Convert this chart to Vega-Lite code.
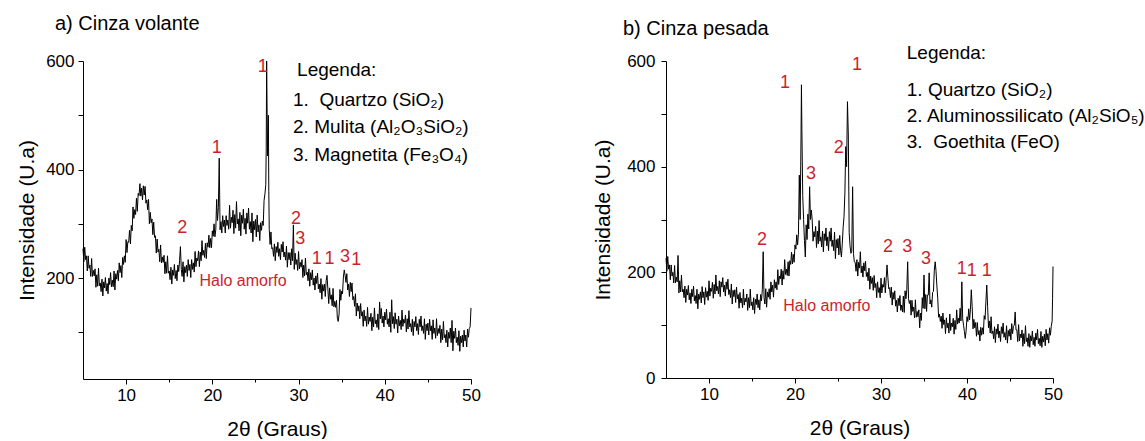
{
  "$schema": "https://vega.github.io/schema/vega-lite/v6.json",
  "background": "white",
  "padding": {"left": 16, "top": 13, "right": 0, "bottom": 0},
  "spacing": 195,
  "bounds": "flush",
  "config": {
    "font": "Liberation Sans",
    "view": {"stroke": null},
    "axis": {
      "domainColor": "#000", "domainWidth": 1, "tickColor": "#000", "tickWidth": 1,
      "labelColor": "#000", "labelFont": "Liberation Sans", "labelFontSize": 17,
      "titleColor": "#000", "titleFont": "Liberation Sans", "titleFontSize": 21, "titleFontWeight": "normal",
      "grid": false, "labelFlush": false, "labelOverlap": false
    },
    "text": {"font": "Liberation Sans"}
  },
  "datasets": {
    "va": [
      {"x":5.0,"y":254},{"x":5.1,"y":230},{"x":5.2,"y":257},{"x":5.3,"y":234},{"x":5.4,"y":241},{"x":5.5,"y":213},{"x":5.6,"y":241},{"x":5.7,"y":218},{"x":5.8,"y":224},{"x":5.9,"y":203},
      {"x":6.0,"y":236},{"x":6.1,"y":203},{"x":6.2,"y":214},{"x":6.3,"y":204},{"x":6.4,"y":217},{"x":6.5,"y":183},{"x":6.6,"y":206},{"x":6.7,"y":185},{"x":6.8,"y":218},{"x":6.9,"y":186},
      {"x":7.0,"y":191},{"x":7.1,"y":175},{"x":7.2,"y":198},{"x":7.3,"y":167},{"x":7.4,"y":193},{"x":7.5,"y":182},{"x":7.6,"y":201},{"x":7.7,"y":176},{"x":7.8,"y":190},{"x":7.9,"y":171},
      {"x":8.0,"y":200},{"x":8.1,"y":188},{"x":8.2,"y":210},{"x":8.3,"y":184},{"x":8.4,"y":196},{"x":8.5,"y":184},{"x":8.6,"y":213},{"x":8.7,"y":178},{"x":8.8,"y":208},{"x":8.9,"y":198},
      {"x":9.0,"y":214},{"x":9.1,"y":195},{"x":9.2,"y":228},{"x":9.3,"y":210},{"x":9.4,"y":223},{"x":9.5,"y":201},{"x":9.6,"y":238},{"x":9.7,"y":225},{"x":9.8,"y":241},{"x":9.9,"y":229},
      {"x":10.0,"y":271},{"x":10.1,"y":247},{"x":10.2,"y":267},{"x":10.3,"y":266},{"x":10.4,"y":288},{"x":10.5,"y":263},{"x":10.6,"y":297},{"x":10.7,"y":287},{"x":10.8,"y":331},{"x":10.9,"y":310},
      {"x":11.0,"y":326},{"x":11.1,"y":317},{"x":11.2,"y":347},{"x":11.3,"y":323},{"x":11.4,"y":356},{"x":11.5,"y":352},{"x":11.6,"y":374},{"x":11.7,"y":351},{"x":11.8,"y":366},{"x":11.9,"y":344},
      {"x":12.0,"y":370},{"x":12.1,"y":353},{"x":12.2,"y":369},{"x":12.3,"y":338},{"x":12.4,"y":344},{"x":12.5,"y":326},{"x":12.6,"y":345},{"x":12.7,"y":300},{"x":12.8,"y":321},{"x":12.9,"y":302},
      {"x":13.0,"y":309},{"x":13.1,"y":280},{"x":13.2,"y":303},{"x":13.3,"y":275},{"x":13.4,"y":278},{"x":13.5,"y":246},{"x":13.6,"y":272},{"x":13.7,"y":248},{"x":13.8,"y":253},{"x":13.9,"y":230},
      {"x":14.0,"y":261},{"x":14.1,"y":228},{"x":14.2,"y":239},{"x":14.3,"y":229},{"x":14.4,"y":242},{"x":14.5,"y":208},{"x":14.6,"y":230},{"x":14.7,"y":209},{"x":14.8,"y":241},{"x":14.9,"y":209},
      {"x":15.0,"y":213},{"x":15.1,"y":197},{"x":15.2,"y":220},{"x":15.3,"y":189},{"x":15.4,"y":215},{"x":15.5,"y":205},{"x":15.6,"y":225},{"x":15.7,"y":199},{"x":15.8,"y":214},{"x":15.9,"y":195},
      {"x":16.0,"y":224},{"x":16.1,"y":212},{"x":16.2,"y":232},{"x":16.3,"y":258},{"x":16.4,"y":216},{"x":16.5,"y":203},{"x":16.6,"y":230},{"x":16.7,"y":193},{"x":16.8,"y":221},{"x":16.9,"y":210},
      {"x":17.0,"y":224},{"x":17.1,"y":203},{"x":17.2,"y":234},{"x":17.3,"y":214},{"x":17.4,"y":225},{"x":17.5,"y":201},{"x":17.6,"y":234},{"x":17.7,"y":216},{"x":17.8,"y":228},{"x":17.9,"y":211},
      {"x":18.0,"y":249},{"x":18.1,"y":221},{"x":18.2,"y":237},{"x":18.3,"y":232},{"x":18.4,"y":250},{"x":18.5,"y":221},{"x":18.6,"y":248},{"x":18.7,"y":232},{"x":18.8,"y":269},{"x":18.9,"y":242},
      {"x":19.0,"y":251},{"x":19.1,"y":238},{"x":19.2,"y":264},{"x":19.3,"y":236},{"x":19.4,"y":265},{"x":19.5,"y":257},{"x":19.6,"y":279},{"x":19.7,"y":256},{"x":19.8,"y":273},{"x":19.9,"y":256},
      {"x":20.0,"y":287},{"x":20.1,"y":277},{"x":20.2,"y":300},{"x":20.3,"y":276},{"x":20.4,"y":289},{"x":20.5,"y":345},{"x":20.6,"y":306},{"x":20.7,"y":330},{"x":20.8,"y":421},{"x":20.9,"y":289},
      {"x":21.0,"y":304},{"x":21.1,"y":283},{"x":21.2,"y":315},{"x":21.3,"y":295},{"x":21.4,"y":307},{"x":21.5,"y":283},{"x":21.6,"y":315},{"x":21.7,"y":297},{"x":21.8,"y":307},{"x":21.9,"y":290},
      {"x":22.0,"y":334},{"x":22.1,"y":292},{"x":22.2,"y":312},{"x":22.3,"y":302},{"x":22.4,"y":325},{"x":22.5,"y":282},{"x":22.6,"y":317},{"x":22.7,"y":292},{"x":22.8,"y":341},{"x":22.9,"y":300},
      {"x":23.0,"y":309},{"x":23.1,"y":287},{"x":23.2,"y":321},{"x":23.3,"y":278},{"x":23.4,"y":316},{"x":23.5,"y":301},{"x":23.6,"y":327},{"x":23.7,"y":290},{"x":23.8,"y":310},{"x":23.9,"y":281},
      {"x":24.0,"y":320},{"x":24.1,"y":301},{"x":24.2,"y":329},{"x":24.3,"y":290},{"x":24.4,"y":304},{"x":24.5,"y":283},{"x":24.6,"y":320},{"x":24.7,"y":267},{"x":24.8,"y":305},{"x":24.9,"y":289},
      {"x":25.0,"y":308},{"x":25.1,"y":276},{"x":25.2,"y":316},{"x":25.3,"y":285},{"x":25.4,"y":298},{"x":25.5,"y":269},{"x":25.6,"y":302},{"x":25.7,"y":288},{"x":25.8,"y":305},{"x":25.9,"y":297},
      {"x":26.0,"y":343},{"x":26.1,"y":355},{"x":26.2,"y":372},{"x":26.25,"y":440},{"x":26.3,"y":600},{"x":26.4,"y":425},{"x":26.5,"y":500},{"x":26.55,"y":360},{"x":26.6,"y":290},{"x":26.7,"y":262},{"x":26.8,"y":285},{"x":26.9,"y":254},
      {"x":27.0,"y":256},{"x":27.1,"y":240},{"x":27.2,"y":263},{"x":27.3,"y":232},{"x":27.4,"y":258},{"x":27.5,"y":247},{"x":27.6,"y":266},{"x":27.7,"y":240},{"x":27.8,"y":254},{"x":27.9,"y":234},
      {"x":28.0,"y":262},{"x":28.1,"y":248},{"x":28.2,"y":267},{"x":28.3,"y":239},{"x":28.4,"y":248},{"x":28.5,"y":233},{"x":28.6,"y":259},{"x":28.7,"y":220},{"x":28.8,"y":247},{"x":28.9,"y":234},
      {"x":29.0,"y":247},{"x":29.1,"y":224},{"x":29.2,"y":254},{"x":29.3,"y":232},{"x":29.4,"y":298},{"x":29.5,"y":216},{"x":29.6,"y":246},{"x":29.7,"y":225},{"x":29.8,"y":234},{"x":29.9,"y":214},
      {"x":30.0,"y":249},{"x":30.1,"y":217},{"x":30.2,"y":229},{"x":30.3,"y":220},{"x":30.4,"y":234},{"x":30.5,"y":201},{"x":30.6,"y":224},{"x":30.7,"y":204},{"x":30.8,"y":237},{"x":30.9,"y":206},
      {"x":31.0,"y":211},{"x":31.1,"y":195},{"x":31.2,"y":217},{"x":31.3,"y":185},{"x":31.4,"y":210},{"x":31.5,"y":197},{"x":31.6,"y":215},{"x":31.7,"y":187},{"x":31.8,"y":200},{"x":31.9,"y":178},
      {"x":32.0,"y":204},{"x":32.1,"y":190},{"x":32.2,"y":209},{"x":32.3,"y":180},{"x":32.4,"y":189},{"x":32.5,"y":173},{"x":32.6,"y":199},{"x":32.7,"y":161},{"x":32.8,"y":188},{"x":32.9,"y":176},
      {"x":33.0,"y":189},{"x":33.1,"y":166},{"x":33.2,"y":195},{"x":33.3,"y":205},{"x":33.4,"y":180},{"x":33.5,"y":153},{"x":33.6,"y":182},{"x":33.7,"y":161},{"x":33.8,"y":169},{"x":33.9,"y":149},
      {"x":34.0,"y":181},{"x":34.1,"y":147},{"x":34.2,"y":157},{"x":34.3,"y":146},{"x":34.4,"y":159},{"x":34.5,"y":126},{"x":34.6,"y":120},{"x":34.7,"y":134},{"x":34.8,"y":179},{"x":34.9,"y":159},
      {"x":35.0,"y":176},{"x":35.1,"y":171},{"x":35.2,"y":202},{"x":35.3,"y":215},{"x":35.4,"y":205},{"x":35.5,"y":192},{"x":35.6,"y":208},{"x":35.7,"y":178},{"x":35.8,"y":189},{"x":35.9,"y":166},
      {"x":36.0,"y":192},{"x":36.1,"y":175},{"x":36.2,"y":191},{"x":36.3,"y":160},{"x":36.4,"y":166},{"x":36.5,"y":148},{"x":36.6,"y":171},{"x":36.7,"y":130},{"x":36.8,"y":154},{"x":36.9,"y":139},
      {"x":37.0,"y":149},{"x":37.1,"y":125},{"x":37.2,"y":153},{"x":37.3,"y":130},{"x":37.4,"y":138},{"x":37.5,"y":111},{"x":37.6,"y":141},{"x":37.7,"y":121},{"x":37.8,"y":130},{"x":37.9,"y":111},
      {"x":38.0,"y":146},{"x":38.1,"y":115},{"x":38.2,"y":128},{"x":38.3,"y":120},{"x":38.4,"y":135},{"x":38.5,"y":103},{"x":38.6,"y":128},{"x":38.7,"y":110},{"x":38.8,"y":145},{"x":38.9,"y":116},
      {"x":39.0,"y":123},{"x":39.1,"y":109},{"x":39.2,"y":134},{"x":39.3,"y":105},{"x":39.4,"y":156},{"x":39.5,"y":125},{"x":39.6,"y":144},{"x":39.7,"y":117},{"x":39.8,"y":130},{"x":39.9,"y":110},
      {"x":40.0,"y":137},{"x":40.1,"y":123},{"x":40.2,"y":143},{"x":40.3,"y":115},{"x":40.4,"y":125},{"x":40.5,"y":110},{"x":40.6,"y":137},{"x":40.7,"y":100},{"x":40.8,"y":160},{"x":40.9,"y":116},
      {"x":41.0,"y":129},{"x":41.1,"y":107},{"x":41.2,"y":136},{"x":41.3,"y":115},{"x":41.4,"y":124},{"x":41.5,"y":99},{"x":41.6,"y":130},{"x":41.7,"y":112},{"x":41.8,"y":122},{"x":41.9,"y":105},
      {"x":42.0,"y":141},{"x":42.1,"y":111},{"x":42.2,"y":124},{"x":42.3,"y":117},{"x":42.4,"y":132},{"x":42.5,"y":101},{"x":42.6,"y":125},{"x":42.7,"y":106},{"x":42.8,"y":140},{"x":42.9,"y":110},
      {"x":43.0,"y":116},{"x":43.1,"y":101},{"x":43.2,"y":124},{"x":43.3,"y":94},{"x":43.4,"y":120},{"x":43.5,"y":110},{"x":43.6,"y":129},{"x":43.7,"y":103},{"x":43.8,"y":116},{"x":43.9,"y":96},
      {"x":44.0,"y":124},{"x":44.1,"y":110},{"x":44.2,"y":130},{"x":44.3,"y":103},{"x":44.4,"y":112},{"x":44.5,"y":98},{"x":44.6,"y":125},{"x":44.7,"y":87},{"x":44.8,"y":115},{"x":44.9,"y":103},
      {"x":45.0,"y":117},{"x":45.1,"y":95},{"x":45.2,"y":124},{"x":45.3,"y":103},{"x":45.4,"y":112},{"x":45.5,"y":87},{"x":45.6,"y":123},{"x":45.7,"y":98},{"x":45.8,"y":108},{"x":45.9,"y":89},
      {"x":46.0,"y":125},{"x":46.1,"y":94},{"x":46.2,"y":107},{"x":46.3,"y":98},{"x":46.4,"y":113},{"x":46.5,"y":81},{"x":46.6,"y":106},{"x":46.7,"y":86},{"x":46.8,"y":120},{"x":46.9,"y":90},
      {"x":47.0,"y":96},{"x":47.1,"y":81},{"x":47.2,"y":104},{"x":47.3,"y":73},{"x":47.4,"y":100},{"x":47.5,"y":89},{"x":47.6,"y":108},{"x":47.7,"y":81},{"x":47.8,"y":122},{"x":47.9,"y":66},
      {"x":48.0,"y":102},{"x":48.1,"y":89},{"x":48.2,"y":108},{"x":48.3,"y":81},{"x":48.4,"y":91},{"x":48.5,"y":76},{"x":48.6,"y":103},{"x":48.7,"y":65},{"x":48.8,"y":93},{"x":48.9,"y":81},
      {"x":49.0,"y":95},{"x":49.1,"y":73},{"x":49.2,"y":104},{"x":49.3,"y":84},{"x":49.4,"y":95},{"x":49.5,"y":73},{"x":49.6,"y":106},{"x":49.7,"y":91},{"x":49.8,"y":107},{"x":49.9,"y":110},
      {"x":50.0,"y":145}
    ],
    "vb": [
      {"x":5.0,"y":227},{"x":5.1,"y":202},{"x":5.2,"y":230},{"x":5.3,"y":206},{"x":5.4,"y":214},{"x":5.5,"y":186},{"x":5.6,"y":214},{"x":5.7,"y":193},{"x":5.8,"y":200},{"x":5.9,"y":180},
      {"x":6.0,"y":213},{"x":6.1,"y":180},{"x":6.2,"y":191},{"x":6.3,"y":182},{"x":6.4,"y":232},{"x":6.5,"y":161},{"x":6.6,"y":184},{"x":6.7,"y":163},{"x":6.8,"y":195},{"x":6.9,"y":163},
      {"x":7.0,"y":168},{"x":7.1,"y":152},{"x":7.2,"y":174},{"x":7.3,"y":143},{"x":7.4,"y":168},{"x":7.5,"y":157},{"x":7.6,"y":175},{"x":7.7,"y":148},{"x":7.8,"y":161},{"x":7.9,"y":141},
      {"x":8.0,"y":168},{"x":8.1,"y":154},{"x":8.2,"y":174},{"x":8.3,"y":146},{"x":8.4,"y":156},{"x":8.5,"y":141},{"x":8.6,"y":168},{"x":8.7,"y":131},{"x":8.8,"y":159},{"x":8.9,"y":149},
      {"x":9.0,"y":163},{"x":9.1,"y":142},{"x":9.2,"y":173},{"x":9.3,"y":152},{"x":9.4,"y":163},{"x":9.5,"y":139},{"x":9.6,"y":171},{"x":9.7,"y":153},{"x":9.8,"y":164},{"x":9.9,"y":147},
      {"x":10.0,"y":184},{"x":10.1,"y":155},{"x":10.2,"y":170},{"x":10.3,"y":164},{"x":10.4,"y":181},{"x":10.5,"y":151},{"x":10.6,"y":177},{"x":10.7,"y":159},{"x":10.8,"y":195},{"x":10.9,"y":165},
      {"x":11.0,"y":173},{"x":11.1,"y":159},{"x":11.2,"y":184},{"x":11.3,"y":154},{"x":11.4,"y":182},{"x":11.5,"y":172},{"x":11.6,"y":190},{"x":11.7,"y":163},{"x":11.8,"y":176},{"x":11.9,"y":155},
      {"x":12.0,"y":182},{"x":12.1,"y":168},{"x":12.2,"y":187},{"x":12.3,"y":158},{"x":12.4,"y":167},{"x":12.5,"y":152},{"x":12.6,"y":178},{"x":12.7,"y":140},{"x":12.8,"y":166},{"x":12.9,"y":154},
      {"x":13.0,"y":167},{"x":13.1,"y":143},{"x":13.2,"y":172},{"x":13.3,"y":150},{"x":13.4,"y":158},{"x":13.5,"y":132},{"x":13.6,"y":162},{"x":13.7,"y":142},{"x":13.8,"y":151},{"x":13.9,"y":133},
      {"x":14.0,"y":168},{"x":14.1,"y":138},{"x":14.2,"y":151},{"x":14.3,"y":144},{"x":14.4,"y":159},{"x":14.5,"y":128},{"x":14.6,"y":152},{"x":14.7,"y":133},{"x":14.8,"y":168},{"x":14.9,"y":137},
      {"x":15.0,"y":144},{"x":15.1,"y":129},{"x":15.2,"y":152},{"x":15.3,"y":122},{"x":15.4,"y":149},{"x":15.5,"y":139},{"x":15.6,"y":159},{"x":15.7,"y":133},{"x":15.8,"y":148},{"x":15.9,"y":129},
      {"x":16.0,"y":158},{"x":16.1,"y":146},{"x":16.2,"y":167},{"x":16.3,"y":239},{"x":16.4,"y":152},{"x":16.5,"y":140},{"x":16.6,"y":169},{"x":16.7,"y":134},{"x":16.8,"y":163},{"x":16.9,"y":153},
      {"x":17.0,"y":169},{"x":17.1,"y":149},{"x":17.2,"y":182},{"x":17.3,"y":163},{"x":17.4,"y":176},{"x":17.5,"y":153},{"x":17.6,"y":186},{"x":17.7,"y":170},{"x":17.8,"y":182},{"x":17.9,"y":167},
      {"x":18.0,"y":205},{"x":18.1,"y":177},{"x":18.2,"y":193},{"x":18.3,"y":188},{"x":18.4,"y":206},{"x":18.5,"y":176},{"x":18.6,"y":203},{"x":18.7,"y":187},{"x":18.8,"y":224},{"x":18.9,"y":196},
      {"x":19.0,"y":206},{"x":19.1,"y":194},{"x":19.2,"y":220},{"x":19.3,"y":193},{"x":19.4,"y":222},{"x":19.5,"y":215},{"x":19.6,"y":238},{"x":19.7,"y":216},{"x":19.8,"y":234},{"x":19.9,"y":219},
      {"x":20.0,"y":252},{"x":20.1,"y":244},{"x":20.2,"y":271},{"x":20.3,"y":252},{"x":20.4,"y":272},{"x":20.5,"y":384},{"x":20.6,"y":300},{"x":20.7,"y":456},{"x":20.75,"y":555},{"x":20.8,"y":470},{"x":20.9,"y":345},
      {"x":21.0,"y":300},{"x":21.1,"y":260},{"x":21.2,"y":229},{"x":21.3,"y":290},{"x":21.4,"y":262},{"x":21.5,"y":310},{"x":21.6,"y":282},{"x":21.7,"y":362},{"x":21.8,"y":300},{"x":21.9,"y":318},
      {"x":22.0,"y":299},{"x":22.1,"y":259},{"x":22.2,"y":277},{"x":22.3,"y":267},{"x":22.4,"y":287},{"x":22.5,"y":247},{"x":22.6,"y":278},{"x":22.7,"y":254},{"x":22.8,"y":298},{"x":22.9,"y":259},
      {"x":23.0,"y":267},{"x":23.1,"y":248},{"x":23.2,"y":278},{"x":23.3,"y":239},{"x":23.4,"y":273},{"x":23.5,"y":260},{"x":23.6,"y":284},{"x":23.7,"y":250},{"x":23.8,"y":267},{"x":23.9,"y":241},
      {"x":24.0,"y":277},{"x":24.1,"y":259},{"x":24.2,"y":284},{"x":24.3,"y":249},{"x":24.4,"y":261},{"x":24.5,"y":241},{"x":24.6,"y":276},{"x":24.7,"y":226},{"x":24.8,"y":262},{"x":24.9,"y":246},
      {"x":25.0,"y":264},{"x":25.1,"y":233},{"x":25.2,"y":270},{"x":25.3,"y":241},{"x":25.4,"y":229},{"x":25.5,"y":255},{"x":25.6,"y":286},{"x":25.7,"y":305},{"x":25.8,"y":350},{"x":25.9,"y":438},
      {"x":26.0,"y":400},{"x":26.1,"y":523},{"x":26.2,"y":460},{"x":26.3,"y":275},{"x":26.4,"y":250},{"x":26.5,"y":236},{"x":26.6,"y":240},{"x":26.7,"y":362},{"x":26.8,"y":236},{"x":26.9,"y":220},
      {"x":27.0,"y":219},{"x":27.1,"y":202},{"x":27.2,"y":224},{"x":27.3,"y":193},{"x":27.4,"y":219},{"x":27.5,"y":208},{"x":27.6,"y":239},{"x":27.7,"y":199},{"x":27.8,"y":212},{"x":27.9,"y":191},
      {"x":28.0,"y":218},{"x":28.1,"y":203},{"x":28.2,"y":221},{"x":28.3,"y":192},{"x":28.4,"y":200},{"x":28.5,"y":184},{"x":28.6,"y":208},{"x":28.7,"y":168},{"x":28.8,"y":193},{"x":28.9,"y":179},
      {"x":29.0,"y":190},{"x":29.1,"y":166},{"x":29.2,"y":194},{"x":29.3,"y":171},{"x":29.4,"y":179},{"x":29.5,"y":152},{"x":29.6,"y":182},{"x":29.7,"y":162},{"x":29.8,"y":171},{"x":29.9,"y":152},
      {"x":30.0,"y":189},{"x":30.1,"y":161},{"x":30.2,"y":177},{"x":30.3,"y":172},{"x":30.4,"y":190},{"x":30.5,"y":161},{"x":30.6,"y":188},{"x":30.7,"y":214},{"x":30.8,"y":190},{"x":30.9,"y":169},
      {"x":31.0,"y":171},{"x":31.1,"y":152},{"x":31.2,"y":172},{"x":31.3,"y":138},{"x":31.4,"y":162},{"x":31.5,"y":149},{"x":31.6,"y":165},{"x":31.7,"y":136},{"x":31.8,"y":147},{"x":31.9,"y":125},
      {"x":32.0,"y":151},{"x":32.1,"y":137},{"x":32.2,"y":156},{"x":32.3,"y":128},{"x":32.4,"y":138},{"x":32.5,"y":125},{"x":32.6,"y":155},{"x":32.7,"y":124},{"x":32.8,"y":165},{"x":32.9,"y":150},
      {"x":33.0,"y":167},{"x":33.1,"y":220},{"x":33.2,"y":150},{"x":33.3,"y":141},{"x":33.4,"y":147},{"x":33.5,"y":119},{"x":33.6,"y":147},{"x":33.7,"y":126},{"x":33.8,"y":134},{"x":33.9,"y":114},
      {"x":34.0,"y":148},{"x":34.1,"y":115},{"x":34.2,"y":126},{"x":34.3,"y":116},{"x":34.4,"y":129},{"x":34.5,"y":95},{"x":34.6,"y":123},{"x":34.7,"y":109},{"x":34.8,"y":152},{"x":34.9,"y":132},
      {"x":35.0,"y":195},{"x":35.1,"y":131},{"x":35.2,"y":158},{"x":35.3,"y":126},{"x":35.4,"y":157},{"x":35.5,"y":157},{"x":35.6,"y":199},{"x":35.7,"y":140},{"x":35.8,"y":148},{"x":35.9,"y":134},
      {"x":36.0,"y":162},{"x":36.1,"y":164},{"x":36.2,"y":204},{"x":36.3,"y":220},{"x":36.4,"y":202},{"x":36.5,"y":174},{"x":36.6,"y":150},{"x":36.7,"y":115},{"x":36.8,"y":121},{"x":36.9,"y":107},
      {"x":37.0,"y":117},{"x":37.1,"y":94},{"x":37.2,"y":123},{"x":37.3,"y":101},{"x":37.4,"y":110},{"x":37.5,"y":84},{"x":37.6,"y":114},{"x":37.7,"y":95},{"x":37.8,"y":104},{"x":37.9,"y":85},
      {"x":38.0,"y":121},{"x":38.1,"y":90},{"x":38.2,"y":104},{"x":38.3,"y":97},{"x":38.4,"y":113},{"x":38.5,"y":83},{"x":38.6,"y":109},{"x":38.7,"y":92},{"x":38.8,"y":129},{"x":38.9,"y":102},
      {"x":39.0,"y":113},{"x":39.1,"y":104},{"x":39.2,"y":132},{"x":39.3,"y":108},{"x":39.4,"y":182},{"x":39.5,"y":112},{"x":39.6,"y":100},{"x":39.7,"y":88},{"x":39.8,"y":75},{"x":39.9,"y":90},
      {"x":40.0,"y":116},{"x":40.1,"y":107},{"x":40.2,"y":131},{"x":40.3,"y":110},{"x":40.4,"y":130},{"x":40.5,"y":167},{"x":40.6,"y":135},{"x":40.7,"y":93},{"x":40.8,"y":111},{"x":40.9,"y":95},
      {"x":41.0,"y":105},{"x":41.1,"y":79},{"x":41.2,"y":105},{"x":41.3,"y":82},{"x":41.4,"y":90},{"x":41.5,"y":70},{"x":41.6,"y":96},{"x":41.7,"y":81},{"x":41.8,"y":95},{"x":41.9,"y":83},
      {"x":42.0,"y":118},{"x":42.1,"y":111},{"x":42.2,"y":145},{"x":42.3,"y":176},{"x":42.4,"y":135},{"x":42.5,"y":95},{"x":42.6,"y":108},{"x":42.7,"y":85},{"x":42.8,"y":116},{"x":42.9,"y":84},
      {"x":43.0,"y":89},{"x":43.1,"y":74},{"x":43.2,"y":97},{"x":43.3,"y":67},{"x":43.4,"y":93},{"x":43.5,"y":83},{"x":43.6,"y":102},{"x":43.7,"y":76},{"x":43.8,"y":89},{"x":43.9,"y":69},
      {"x":44.0,"y":97},{"x":44.1,"y":84},{"x":44.2,"y":104},{"x":44.3,"y":77},{"x":44.4,"y":86},{"x":44.5,"y":72},{"x":44.6,"y":99},{"x":44.7,"y":66},{"x":44.8,"y":90},{"x":44.9,"y":79},
      {"x":45.0,"y":93},{"x":45.1,"y":72},{"x":45.2,"y":103},{"x":45.3,"y":84},{"x":45.4,"y":98},{"x":45.5,"y":100},{"x":45.6,"y":125},{"x":45.7,"y":91},{"x":45.8,"y":91},{"x":45.9,"y":69},
      {"x":46.0,"y":101},{"x":46.1,"y":70},{"x":46.2,"y":83},{"x":46.3,"y":76},{"x":46.4,"y":91},{"x":46.5,"y":60},{"x":46.6,"y":84},{"x":46.7,"y":65},{"x":46.8,"y":99},{"x":46.9,"y":69},
      {"x":47.0,"y":76},{"x":47.1,"y":60},{"x":47.2,"y":84},{"x":47.3,"y":58},{"x":47.4,"y":80},{"x":47.5,"y":70},{"x":47.6,"y":89},{"x":47.7,"y":63},{"x":47.8,"y":77},{"x":47.9,"y":60},
      {"x":48.0,"y":85},{"x":48.1,"y":72},{"x":48.2,"y":92},{"x":48.3,"y":65},{"x":48.4,"y":75},{"x":48.5,"y":61},{"x":48.6,"y":88},{"x":48.7,"y":58},{"x":48.8,"y":79},{"x":48.9,"y":68},
      {"x":49.0,"y":83},{"x":49.1,"y":61},{"x":49.2,"y":92},{"x":49.3,"y":72},{"x":49.4,"y":84},{"x":49.5,"y":66},{"x":49.6,"y":95},{"x":49.7,"y":81},{"x":49.8,"y":98},{"x":49.9,"y":108},
      {"x":49.95,"y":150},{"x":50.0,"y":211}
    ]
  },
  "hconcat": [
    {
      "width": 388,
      "height": 318,
      "layer": [
        {
          "data": {"name": "va"},
          "mark": {"type": "line", "color": "#000", "strokeWidth": 1},
          "encoding": {
            "x": {"field": "x", "type": "quantitative",
                  "scale": {"domain": [5, 50], "nice": false, "zero": false},
                  "axis": {"title": "2θ (Graus)", "values": [10, 15, 20, 25, 30, 35, 40, 45, 50],
                           "labelExpr": "datum.value % 10 === 0 ? datum.label : ''",
                           "tickSize": {"condition": {"test": "datum.value % 10 === 0", "value": 5}, "value": 3},
                           "labelPadding": 3, "titlePadding": 15}},
            "y": {"field": "y", "type": "quantitative",
                  "scale": {"domain": [14, 600], "nice": false, "zero": false},
                  "axis": {"title": "Intensidade (U.a)", "values": [100, 200, 300, 400, 500, 600],
                           "labelExpr": "datum.value % 200 === 0 ? datum.label : ''",
                           "tickSize": 5, "labelPadding": 4, "titlePadding": 8}}
          }
        },
        {
          "data": {"values": [
            {"x": 25.85, "y": 589, "t": "1"}, {"x": 20.5, "y": 439, "t": "1"}, {"x": 16.5, "y": 293, "t": "2"},
            {"x": 29.7, "y": 309, "t": "2"}, {"x": 30.2, "y": 272, "t": "3"}, {"x": 32.1, "y": 235, "t": "1"},
            {"x": 33.6, "y": 235, "t": "1"}, {"x": 35.4, "y": 239, "t": "3"}, {"x": 36.7, "y": 233, "t": "1"}
          ]},
          "mark": {"type": "text", "align": "center", "baseline": "middle", "color": "#cc1f2d", "fontSize": 18},
          "encoding": {"x": {"field": "x", "type": "quantitative"}, "y": {"field": "y", "type": "quantitative"}, "text": {"field": "t"}}
        },
        {
          "data": {"values": [{"x": 23.56, "y": 195, "t": "Halo amorfo"}]},
          "mark": {"type": "text", "align": "center", "baseline": "middle", "color": "#cc1f2d", "fontSize": 16},
          "encoding": {"x": {"field": "x", "type": "quantitative"}, "y": {"field": "y", "type": "quantitative"}, "text": {"field": "t"}}
        },
        {
          "data": {"values": [
            {"x": 29.83, "y": 583, "t": "Legenda:"},
            {"x": 29.36, "y": 528, "t": "1.\u00a0\u00a0Quartzo (SiO₂)"},
            {"x": 29.36, "y": 478, "t": "2. Mulita (Al₂O₃SiO₂)"},
            {"x": 29.36, "y": 427, "t": "3. Magnetita (Fe₃O₄)"}
          ]},
          "mark": {"type": "text", "align": "left", "baseline": "middle", "color": "#000", "fontSize": 19},
          "encoding": {"x": {"field": "x", "type": "quantitative"}, "y": {"field": "y", "type": "quantitative"}, "text": {"field": "t"}}
        },
        {
          "data": {"values": [{"x": 1.75, "y": 658, "t": "a) Cinza volante"}]},
          "mark": {"type": "text", "align": "left", "baseline": "alphabetic", "color": "#000", "fontSize": 20},
          "encoding": {"x": {"field": "x", "type": "quantitative"}, "y": {"field": "y", "type": "quantitative"}, "text": {"field": "t"}}
        }
      ]
    },
    {
      "width": 387,
      "height": 317,
      "layer": [
        {
          "data": {"name": "vb"},
          "mark": {"type": "line", "color": "#000", "strokeWidth": 1},
          "encoding": {
            "x": {"field": "x", "type": "quantitative",
                  "scale": {"domain": [5, 50], "nice": false, "zero": false},
                  "axis": {"title": "2θ (Graus)", "values": [10, 15, 20, 25, 30, 35, 40, 45, 50],
                           "labelExpr": "datum.value % 10 === 0 ? datum.label : ''",
                           "tickSize": {"condition": {"test": "datum.value % 10 === 0", "value": 5}, "value": 3},
                           "labelPadding": 3, "titlePadding": 15}},
            "y": {"field": "y", "type": "quantitative",
                  "scale": {"domain": [0, 600], "nice": false, "zero": false},
                  "axis": {"title": "Intensidade (U.a)", "values": [0, 100, 200, 300, 400, 500, 600],
                           "labelExpr": "datum.value % 200 === 0 ? datum.label : ''",
                           "tickSize": 5, "labelPadding": 6, "titlePadding": 13}}
          }
        },
        {
          "data": {"values": [
            {"x": 18.84, "y": 558, "t": "1"}, {"x": 27.2, "y": 592, "t": "1"}, {"x": 25.1, "y": 435, "t": "2"},
            {"x": 21.86, "y": 386, "t": "3"}, {"x": 16.16, "y": 261, "t": "2"}, {"x": 30.8, "y": 248, "t": "2"},
            {"x": 33.05, "y": 248, "t": "3"}, {"x": 35.23, "y": 225, "t": "3"}, {"x": 39.38, "y": 206, "t": "1"},
            {"x": 40.55, "y": 203, "t": "1"}, {"x": 42.29, "y": 203, "t": "1"}
          ]},
          "mark": {"type": "text", "align": "center", "baseline": "middle", "color": "#cc1f2d", "fontSize": 18},
          "encoding": {"x": {"field": "x", "type": "quantitative"}, "y": {"field": "y", "type": "quantitative"}, "text": {"field": "t"}}
        },
        {
          "data": {"values": [{"x": 23.7, "y": 136, "t": "Halo amorfo"}]},
          "mark": {"type": "text", "align": "center", "baseline": "middle", "color": "#cc1f2d", "fontSize": 16},
          "encoding": {"x": {"field": "x", "type": "quantitative"}, "y": {"field": "y", "type": "quantitative"}, "text": {"field": "t"}}
        },
        {
          "data": {"values": [
            {"x": 33.0, "y": 615, "t": "Legenda:"},
            {"x": 33.0, "y": 545, "t": "1. Quartzo (SiO₂)"},
            {"x": 33.0, "y": 496, "t": "2. Aluminossilicato (Al₂SiO₅)"},
            {"x": 33.0, "y": 447, "t": "3.\u00a0\u00a0Goethita (FeO)"}
          ]},
          "mark": {"type": "text", "align": "left", "baseline": "middle", "color": "#000", "fontSize": 19},
          "encoding": {"x": {"field": "x", "type": "quantitative"}, "y": {"field": "y", "type": "quantitative"}, "text": {"field": "t"}}
        },
        {
          "data": {"values": [{"x": 0.0, "y": 650, "t": "b) Cinza pesada"}]},
          "mark": {"type": "text", "align": "left", "baseline": "alphabetic", "color": "#000", "fontSize": 20},
          "encoding": {"x": {"field": "x", "type": "quantitative"}, "y": {"field": "y", "type": "quantitative"}, "text": {"field": "t"}}
        }
      ]
    }
  ]
}
